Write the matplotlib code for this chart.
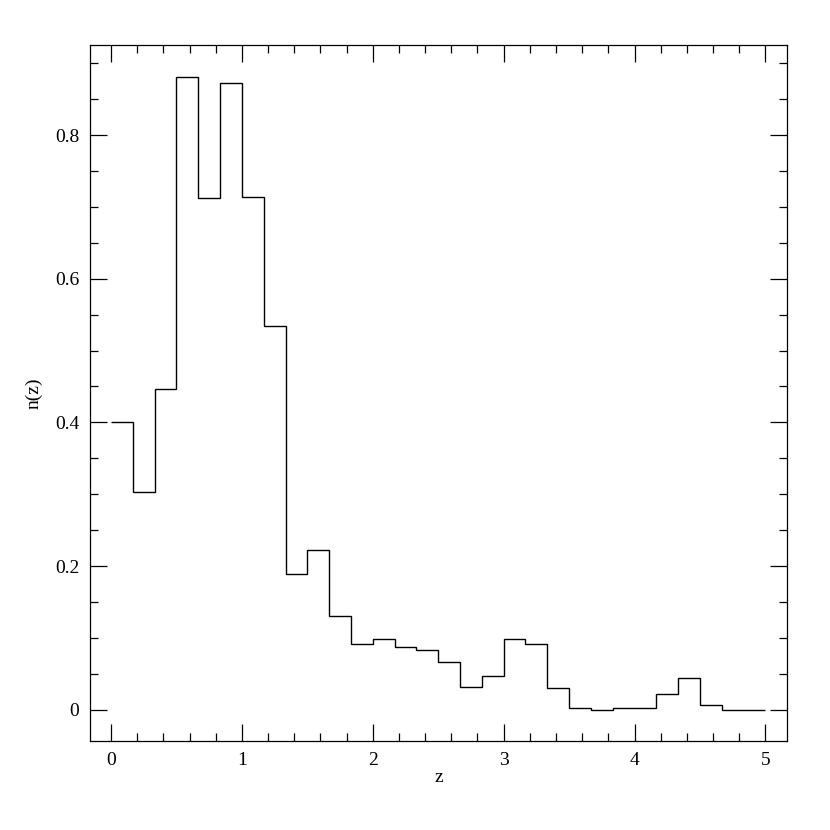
import matplotlib
matplotlib.use("Agg")
import matplotlib.pyplot as plt
import numpy as np
from matplotlib.ticker import MultipleLocator

# Histogram: 30 bins of width 1/6 from z=0 to z=5
bin_lo = 0.0
bin_hi = 5.0
nz = [0.400, 0.303, 0.447, 0.881, 0.712, 0.873, 0.714, 0.534, 0.189, 0.222,
      0.131, 0.092, 0.098, 0.088, 0.083, 0.066, 0.032, 0.047, 0.099, 0.092,
      0.030, 0.003, 0.000, 0.003, 0.003, 0.022, 0.044, 0.007, 0.000, 0.000]
x_ticks = [0, 1, 2, 3, 4, 5]
x_tick_labels = ["0", "1", "2", "3", "4", "5"]
y_ticks = [0, 0.2, 0.4, 0.6, 0.8]
y_tick_labels = ["0", "0.2", "0.4", "0.6", "0.8"]

plt.rcParams['font.family'] = ['Liberation Serif', 'DejaVu Serif']

fig = plt.figure(figsize=(8.3, 8.3), dpi=100)
ax = fig.add_axes([0.1088, 0.1072, 0.8390, 0.8389])

edges = np.linspace(bin_lo, bin_hi, len(nz) + 1)
ax.stairs(nz, edges, baseline=None, color='black', linewidth=1.0)

ax.set_xlim(-0.158, 5.162)
ax.set_ylim(-0.0436, 0.9258)

ax.set_xticks(x_ticks)
ax.set_xticklabels(x_tick_labels)
ax.set_yticks(y_ticks)
ax.set_yticklabels(y_tick_labels)
ax.xaxis.set_minor_locator(MultipleLocator(0.2))
ax.yaxis.set_minor_locator(MultipleLocator(0.05))

ax.tick_params(which='both', direction='in', top=True, right=True,
               labelsize=14, width=0.9, colors='black')
ax.tick_params(which='major', length=12, pad=8)
ax.tick_params(which='minor', length=6)
for s in ax.spines.values():
    s.set_linewidth(0.9)

ax.set_xlabel('z', fontsize=14, labelpad=0)
ax.set_ylabel('n(z)', fontsize=14, labelpad=9)

fig.savefig('out.png', dpi=100)
